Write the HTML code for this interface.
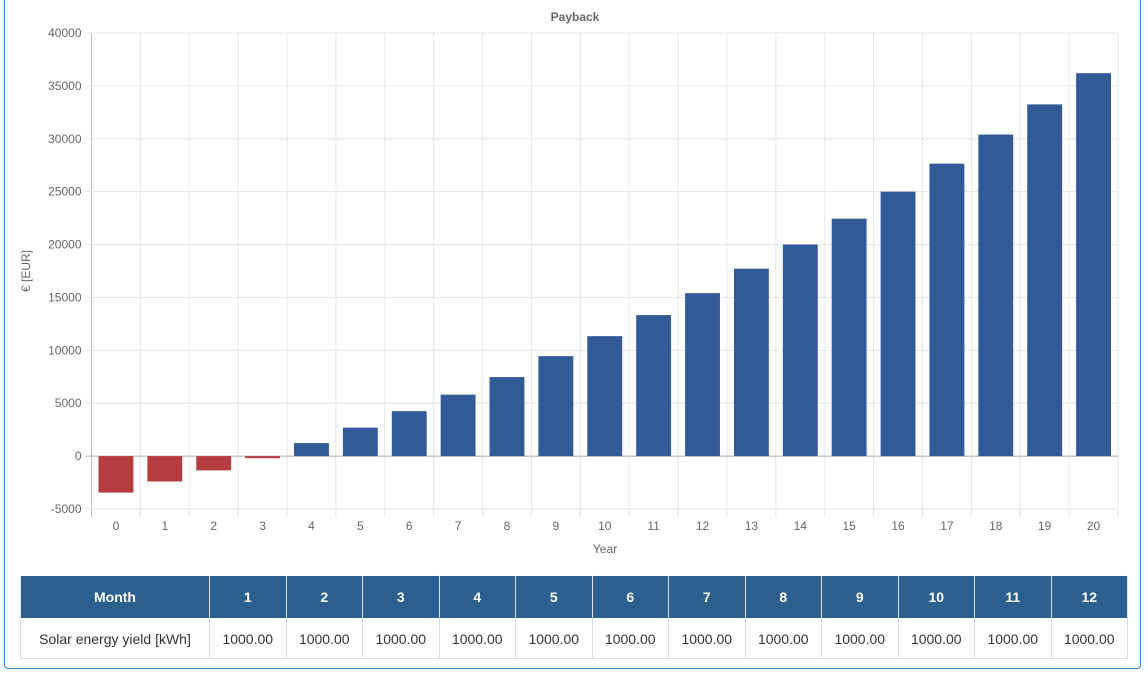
<!DOCTYPE html>
<html><head><meta charset="utf-8"><style>
body{margin:0;width:1148px;height:678px;background:#fff;font-family:"Liberation Sans",sans-serif;position:relative;overflow:hidden}
#frame{position:absolute;left:4px;top:-6px;width:1137px;height:675px;border:1px solid #2f7fc1;border-radius:4px;box-sizing:border-box}
svg{position:absolute;left:0;top:0}
table{position:absolute;left:20px;top:575px;width:1108px;border-collapse:collapse;font-size:14px;table-layout:fixed}
th{background:#2a5f8e;color:#fff;height:40px;font-weight:bold;border:1px solid #ddd;border-color:#fff #ddd}
td{height:37px;text-align:center;color:#333;border:1px solid #ddd}
</style></head><body>
<div id="frame"></div>
<svg id="chart" width="1148" height="570"></svg>
<table>
<colgroup><col style="width:189px"></colgroup>
<tr><th>Month</th><th>1</th><th>2</th><th>3</th><th>4</th><th>5</th><th>6</th><th>7</th><th>8</th><th>9</th><th>10</th><th>11</th><th>12</th></tr>
<tr><td>Solar energy yield [kWh]</td><td>1000.00</td><td>1000.00</td><td>1000.00</td><td>1000.00</td><td>1000.00</td><td>1000.00</td><td>1000.00</td><td>1000.00</td><td>1000.00</td><td>1000.00</td><td>1000.00</td><td>1000.00</td></tr>
</table>
<script>
const years=[0,1,2,3,4,5,6,7,8,9,10,11,12,13,14,15,16,17,18,19,20];
const values=[-3450,-2400,-1350,-200,1230,2690,4250,5810,7470,9450,11340,13330,15400,17720,20000,22450,25000,27650,30400,33250,36200];
const yTicks=[-5000,0,5000,10000,15000,20000,25000,30000,35000,40000];
const NS="http://www.w3.org/2000/svg";
const svg=document.getElementById('chart');
const X0=91.5,X1=1118,Y0=509,Y1=33,ymin=-5000,ymax=40000;
const bw=(X1-X0)/years.length;
function y(v){return Y0-(v-ymin)/(ymax-ymin)*(Y0-Y1);}
function x(i){return X0+i*bw;}
function mk(t,a,txt){const e=document.createElementNS(NS,t);for(const k in a)e.setAttribute(k,a[k]);if(txt!==undefined)e.textContent=txt;svg.appendChild(e);return e;}
let e=mk('text',{x:575,y:21,'text-anchor':'middle','font-size':12,'font-weight':'bold',fill:'#666'},'Payback');


for(let i=0;i<=years.length;i++){
 e=mk('line',{x1:x(i),x2:x(i),y1:Y1,y2:Y0+8,stroke:i==0?'#bbb':'#e6e6e6'});
 
 
}
yTicks.forEach(v=>{
 e=mk('line',{x1:X0-6,x2:X1,y1:y(v),y2:y(v),stroke:v==0?'#aaa':'#e6e6e6'});
 
 
 e=mk('text',{x:X0-10,y:y(v)+4,'text-anchor':'end','font-size':12,fill:'#666'},String(v));
 
 
});
years.forEach((yr,i)=>{
 const v=values[i];const top=y(Math.max(v,0)),bot=y(Math.min(v,0));
 e=mk('rect',{x:x(i)+7,y:top,width:bw-14,height:Math.max(bot-top,1),fill:v<0?'#b53c3f':'#315a96'});
 
 
 e=mk('text',{x:x(i)+bw/2,y:Y0+21,'text-anchor':'middle','font-size':12,fill:'#666'},String(yr));
 
 
});
e=mk('text',{x:605,y:553,'text-anchor':'middle','font-size':12,fill:'#666'},'Year');


e=mk('text',{x:0,y:0,'text-anchor':'middle','font-size':12,fill:'#666',transform:'translate(30,271) rotate(-90)'},'€ [EUR]');


</script>
</body></html>
